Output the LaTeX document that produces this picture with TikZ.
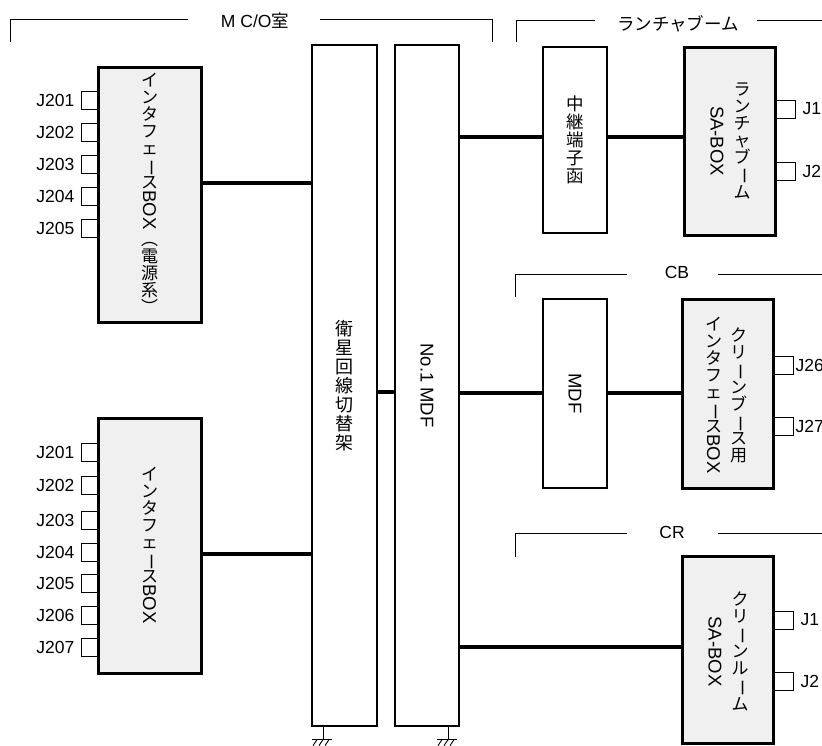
\documentclass[tikz,border=0pt]{standalone}
\usepackage{fontspec}
\setmainfont{Liberation Sans}
\newfontfamily\jp{Noto Sans CJK JP}
\usepackage{graphicx}
\usetikzlibrary{positioning}

\newcommand\vlat[1]{\rotatebox[origin=c]{-90}{\rmfamily\fontsize{18.5}{18.5}\selectfont #1}}
\newcommand\vbar{\rotatebox[origin=c]{-90}{ー}}
\newcommand\vpar[1]{\rotatebox[origin=c]{-90}{#1}}

\tikzset{
  gbox/.style={draw,line width=3pt,fill=black!6,inner sep=0pt},
  wbox/.style={draw,line width=1.3pt,fill=white,inner sep=0pt},
  jack/.style={draw,line width=0.9pt,minimum width=17pt,minimum height=18pt,inner sep=0pt},
  jlabel/.style={font=\fontsize{17.5}{17.5}\selectfont,inner sep=0pt},
  tate/.style={align=center,inner sep=0pt,font=\jp\fontsize{17}{17}\selectfont},
  hlabel/.style={font=\fontsize{17.5}{17.5}\selectfont,inner sep=0pt},
  link/.style={line width=3.2pt},
  frame/.style={line width=1pt},
  gnd/.pic={
    \draw[line width=1pt] (0,0) -- (0,13) (-11,13) -- (9,13);
    \foreach \i in {-6,0,6} \draw[line width=0.9pt] (\i,13) -- ++(-4,6);
  }
}

\begin{document}
\begin{tikzpicture}[x=1pt,y=-1pt]
  \useasboundingbox (0,0) rectangle (822,745);

  % room frames
  \node[hlabel] (mco) at (255,21) {M C/O{\jp 室}};
  \draw[frame] (10,42) -- (10,19) -- (188,19);
  \draw[frame] (320,19) -- (492,19) -- (492,42);
  \node[hlabel,font=\jp\fontsize{17.5}{17.5}\selectfont] (boom) at (678,24) {ランチャブーム};
  \draw[frame] (516,42) -- (516,20) -- (595,20);
  \draw[frame] (757,20) -- (830,20);
  \node[hlabel] (cb) at (677,272) {CB};
  \draw[frame] (515,297) -- (515,274) -- (627,274);
  \draw[frame] (718,274) -- (830,274);
  \node[hlabel] (cr) at (672,532) {CR};
  \draw[frame] (515,557) -- (515,533) -- (627,533);
  \draw[frame] (718,533) -- (830,533);

  % interface boxes, left
  \foreach \n/\y in {1/100,2/132,3/164,4/196,5/228} {
    \node[jack] (ja\n) at (89.5,\y) {};
    \node[jlabel,left=6pt of ja\n] (jla\n) {J20\n};
  }
  \node[gbox,minimum width=103pt,minimum height=255pt] (ifbox1) at (149.5,194.5) {};
  \node[tate] (ifbox1t) at (ifbox1.center) {イ\\ン\\タ\\フ\\ェ\\\vbar\\ス\\\vlat{BOX}\\\vpar{（}\\電\\源\\系\\\vpar{）}};

  \foreach \n/\y in {1/452,2/485,3/520,4/552,5/583,6/615,7/647} {
    \node[jack] (jb\n) at (89.5,\y) {};
    \node[jlabel,left=6pt of jb\n] (jlb\n) {J20\n};
  }
  \node[gbox,minimum width=103pt,minimum height=255pt] (ifbox2) at (149.5,545.5) {};
  \node[tate] (ifbox2t) at (ifbox2.center) {イ\\ン\\タ\\フ\\ェ\\\vbar\\ス\\\vlat{BOX}};

  % racks
  \node[wbox,tate,font=\jp\fontsize{18}{19}\selectfont,minimum width=65pt,minimum height=681pt] (shelf) at (344.5,385.5) {衛\\星\\回\\線\\切\\替\\架};
  \node[wbox,minimum width=64pt,minimum height=681pt] (mdf1) at (427,385.5) {\vlat{No.1 MDF}};
  \pic at (shelf.south -| 323,0) {gnd};
  \pic at (mdf1.south -| 448,0) {gnd};

  % launcher boom
  \node[wbox,tate,font=\jp\fontsize{17.5}{18}\selectfont,minimum width=64pt,minimum height=186pt] (relay) at (575,140) {中\\継\\端\\子\\函};
  \node[gbox,minimum width=91pt,minimum height=188pt] (sabox1) at (729.5,141) {};
  \node[tate] (sabox1r) at ([xshift=12.5pt]sabox1.center) {ラ\\ン\\チ\\ャ\\ブ\\\vbar\\ム};
  \node (sabox1l) at ([xshift=-12.5pt]sabox1.center) {\vlat{SA-BOX}};
  \foreach \n/\y in {1/109,2/171} {
    \node[jack,minimum width=20pt] (jc\n) at (785,\y) {};
    \node[jlabel,right=7pt of jc\n] (jlc\n) {J\n};
  }

  % CB
  \node[wbox,minimum width=64pt,minimum height=189pt] (mdf2) at (575,393.5) {\vlat{MDF}};
  \node[gbox,minimum width=91pt,minimum height=189pt] (cbbox) at (727.5,393.5) {};
  \node[tate] (cbboxr) at ([xshift=11pt,yshift=-2pt]cbbox.center) {ク\\リ\\\vbar\\ン\\ブ\\\vbar\\ス\\用};
  \node[tate] (cbboxl) at ([xshift=-14pt,yshift=-2pt]cbbox.center) {イ\\ン\\タ\\フ\\ェ\\\vbar\\ス\\\vlat{BOX}};
  \foreach \n/\y in {26/365.5,27/426} {
    \node[jack,minimum width=20pt] (jd\n) at (783,\y) {};
    \node[jlabel,right=2pt of jd\n] (jld\n) {J\n};
  }

  % CR
  \node[gbox,minimum width=91pt,minimum height=187pt] (crbox) at (727.5,649.5) {};
  \node[tate] (crboxr) at ([xshift=12.5pt,yshift=-2pt]crbox.center) {ク\\リ\\\vbar\\ン\\ル\\\vbar\\ム};
  \node (crboxl) at ([xshift=-12.5pt,yshift=-2pt]crbox.center) {\vlat{SA-BOX}};
  \foreach \n/\y in {1/620,2/681} {
    \node[jack,minimum width=20pt] (je\n) at (783,\y) {};
    \node[jlabel,right=7pt of je\n] (jle\n) {J\n};
  }

  % cables
  \draw[link] (ifbox1.east |- 0,183) -- (shelf.west |- 0,183);
  \draw[link] (ifbox2.east |- 0,554) -- (shelf.west |- 0,554);
  \draw[link] (shelf.east |- 0,392) -- (mdf1.west |- 0,392);
  \draw[link] (mdf1.east |- 0,137) -- (relay.west |- 0,137);
  \draw[link] (relay.east |- 0,137) -- (sabox1.west |- 0,137);
  \draw[link] (mdf1.east |- 0,393) -- (mdf2.west |- 0,393);
  \draw[link] (mdf2.east |- 0,393) -- (cbbox.west |- 0,393);
  \draw[link] (mdf1.east |- 0,647) -- (crbox.west |- 0,647);
\end{tikzpicture}
\end{document}
